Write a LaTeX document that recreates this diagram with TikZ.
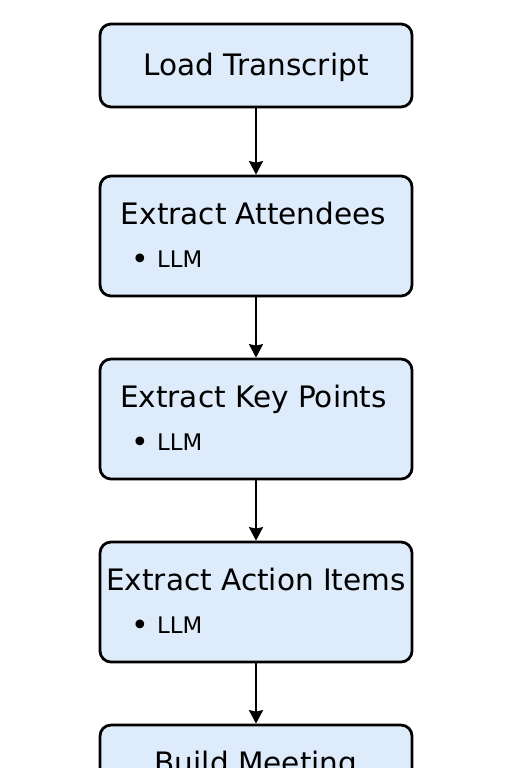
\documentclass[tikz,border=0pt]{standalone}
\usepackage{fontspec}
\setmainfont{DejaVu Sans}
\usetikzlibrary{arrows.meta}
\definecolor{stagefill}{RGB}{221,235,250}
\tikzset{
  stagebox/.style={draw, line width=0.055cm, rounded corners=0.22cm, fill=stagefill,
    minimum width=6.24cm, inner sep=0pt},
  stagetitle/.style={font=\fontsize{16.8}{19}\selectfont, inner sep=0pt, anchor=base},
  stageitem/.style={font=\fontsize{13}{15}\selectfont, inner sep=0pt, anchor=base west},
  stagearrow/.style={draw,line width=0.045cm,-{Stealth[length=0.27cm,width=0.28cm,inset=0.03cm]}},
}
\newcommand{\llmitem}{\hspace{0.66cm}\raisebox{-0.04cm}{\fontsize{17}{17}\selectfont\textbullet}\hspace{0.15cm}LLM}

\begin{document}
\begin{tikzpicture}
\clip (0,0) rectangle (10.24,-15.36);
\node[stagebox, minimum height=1.66cm] (load) at (5.12,-1.31) {};
\node[stagebox, minimum height=2.4cm] (att) at (5.12,-4.72) {};
\node[stagebox, minimum height=2.4cm] (key) at (5.12,-8.38) {};
\node[stagebox, minimum height=2.4cm] (act) at (5.12,-12.04) {};
\node[stagebox, minimum height=2.4cm] (build) at (5.12,-15.70) {};

\node[stagetitle] (loadtitle) at ([yshift=-0.21cm]load.center) {Load Transcript};
\node[stagetitle] (atttitle) at ([xshift=-0.05cm,yshift=-1.0cm]att.north) {Extract Attendees};
\node[stageitem] (attllm) at ([yshift=-1.86cm]att.north west) {\llmitem};
\node[stagetitle] (keytitle) at ([xshift=-0.05cm,yshift=-1.0cm]key.north) {Extract Key Points};
\node[stageitem] (keyllm) at ([yshift=-1.86cm]key.north west) {\llmitem};
\node[stagetitle] (acttitle) at ([yshift=-1.0cm]act.north) {Extract Action Items};
\node[stageitem] (actllm) at ([yshift=-1.86cm]act.north west) {\llmitem};
\node[stagetitle] (buildtitle) at ([yshift=-1.0cm]build.north) {Build Meeting};

\path[stagearrow] (load) edge (att);
\path[stagearrow] (att) edge (key);
\path[stagearrow] (key) edge (act);
\path[stagearrow] (act) edge (build);
\end{tikzpicture}
\end{document}
